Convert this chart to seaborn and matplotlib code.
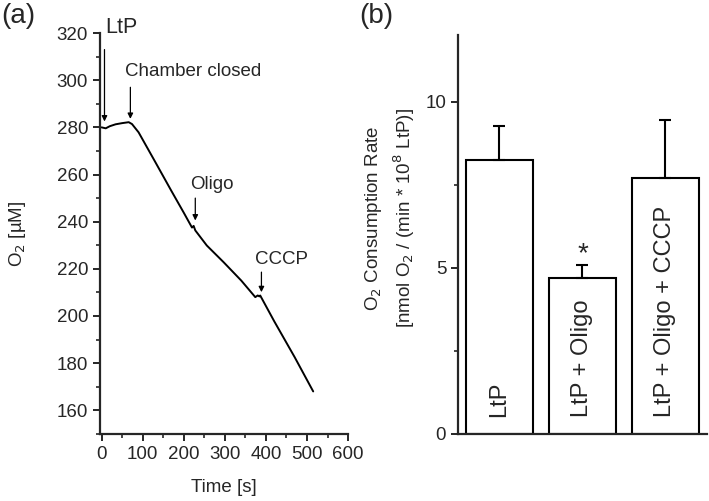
import numpy as np
import pandas as pd
import matplotlib
matplotlib.use('Agg')
import matplotlib.pyplot as plt
import seaborn as sns
from matplotlib.ticker import MultipleLocator

# O2 trace
time_s = [0, 5, 10, 20, 34, 50, 66, 74, 90, 130, 170, 200, 220, 224, 228,
          256, 297, 340, 374, 380, 384, 386, 420, 470, 515]
o2_uM = [280.0, 279.8, 279.6, 280.5, 281.3, 281.8, 282.2, 281.4, 277.9, 265.5,
         253.0, 243.8, 237.5, 238.2, 236.3, 229.9, 222.8, 215.0, 208.0, 208.7,
         208.3, 208.7, 197.8, 182.5, 168.0]

# panel (b) bars
conditions = ['LtP', 'LtP + Oligo', 'LtP + Oligo + CCCP']
rate_mean = [8.25, 4.69, 7.71]
rate_err = [1.02, 0.39, 1.74]

sns.set_style('ticks')
plt.rcParams['font.family'] = ['Liberation Sans', 'DejaVu Sans']
plt.rcParams['font.size'] = 13.5

fig = plt.figure(figsize=(7.09, 5.01), dpi=100)
ax1 = fig.add_axes([0.141, 0.134, 0.350, 0.800])
ax2 = fig.add_axes([0.646, 0.134, 0.351, 0.796])

trace = pd.DataFrame({'time': time_s, 'o2': o2_uM})
sns.lineplot(data=trace, x='time', y='o2', ax=ax1, color='black', lw=1.4)

ax1.set_xlim(-4, 600)
ax1.set_ylim(150, 320)
ax1.xaxis.set_major_locator(MultipleLocator(100))
ax1.xaxis.set_minor_locator(MultipleLocator(50))
ax1.yaxis.set_major_locator(MultipleLocator(20))
ax1.yaxis.set_minor_locator(MultipleLocator(10))
ax1.set_yticks(range(160, 321, 20))
ax1.set_xlabel('Time [s]', labelpad=12)
ax1.set_ylabel('O$_2$ [µM]')
ax1.yaxis.set_label_coords(-0.29, 0.5)

arrow = dict(arrowstyle='-|>', lw=0.9, color='black', mutation_scale=8, shrinkA=0, shrinkB=0)
ax1.text(8, 320, 'LtP', ha='left', va='baseline', fontsize=15.5, clip_on=False)
ax1.annotate('', xy=(7, 282.5), xytext=(7, 313), arrowprops=arrow)
ax1.text(56, 301.8, 'Chamber closed', ha='left', va='baseline')
ax1.annotate('', xy=(70, 283.6), xytext=(70, 297), arrowprops=arrow)
ax1.text(216, 254, 'Oligo', ha='left', va='baseline')
ax1.annotate('', xy=(228, 240.5), xytext=(228, 250), arrowprops=arrow)
ax1.text(374, 222.1, 'CCCP', ha='left', va='baseline')
ax1.annotate('', xy=(389, 210.1), xytext=(389, 218.6), arrowprops=arrow)

bars = pd.DataFrame({'condition': conditions, 'rate': rate_mean})
sns.barplot(data=bars, x='condition', y='rate', ax=ax2, color='white',
            edgecolor='black', linewidth=1.5, width=0.8, errorbar=None)
ax2.errorbar(range(len(conditions)), rate_mean,
             yerr=[np.zeros(len(rate_err)), rate_err], fmt='none',
             ecolor='black', elinewidth=1.5, capsize=4, capthick=1.5)
for i, lab in enumerate(conditions):
    ax2.text(i, 0.5, lab, rotation=90, ha='center', va='bottom', fontsize=17)
ax2.text(1, rate_mean[1] + rate_err[1] - 0.08, '*', ha='center', va='bottom', fontsize=20)

ax2.set_xlim(-0.5, 2.5)
ax2.set_ylim(0, 12)
ax2.yaxis.set_major_locator(MultipleLocator(5))
ax2.yaxis.set_minor_locator(MultipleLocator(2.5))
ax2.set_xticks([])
ax2.set_xlabel('')
ax2.set_ylabel('O$_2$ Consumption Rate\n[nmol O$_2$ / (min * 10$^8$ LtP)]', linespacing=1.4)
ax2.yaxis.set_label_coords(-0.165, 0.54)

for ax in (ax1, ax2):
    sns.despine(ax=ax)
    for s in ('left', 'bottom'):
        ax.spines[s].set_linewidth(1.6)
    ax.tick_params(which='major', length=5, width=1.4, labelsize=13.5)
    ax.tick_params(which='minor', length=3, width=1.2)

fig.text(0.002, 0.995, '(a)', ha='left', va='top', fontsize=20)
fig.text(0.506, 0.995, '(b)', ha='left', va='top', fontsize=20)

fig.savefig('out.png', dpi=100)
